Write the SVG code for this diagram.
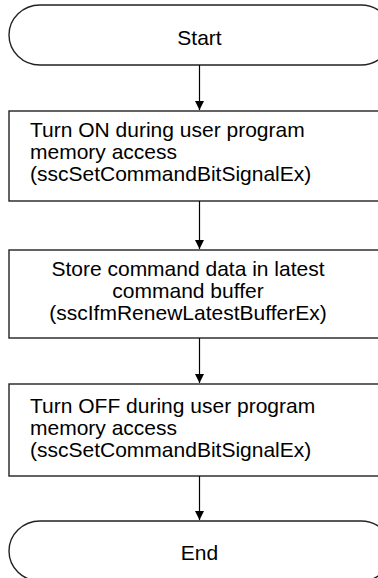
<svg xmlns="http://www.w3.org/2000/svg" width="378" height="578" viewBox="0 0 378 578">
<defs>
<marker id="ah" markerWidth="10" markerHeight="10" refX="9" refY="5" orient="auto" markerUnits="userSpaceOnUse">
<path d="M0,0.5 L9,5 L0,9.5 Z" fill="#000"/>
</marker>
<style>
.shape{fill:#fff;stroke:#222;stroke-width:1.4}
.t{font-family:"Liberation Sans",Arial,sans-serif;font-size:21px;fill:#000}
.c{text-anchor:middle}
.conn{stroke:#000;stroke-width:1.2;fill:none}
</style>
</defs>
<rect width="378" height="578" fill="#fff"/>
<g id="start">
<path class="shape" d="M40,5 H361 A31,30 0 0 1 361,65 H40 A31,30 0 0 1 40,5 Z"/>
<text class="t c" x="199.5" y="45">Start</text>
</g>
<g id="step1">
<rect class="shape" x="9" y="111" width="390" height="90"/>
<text class="t" x="30" y="137">Turn ON during user program</text>
<text class="t" x="30" y="159">memory access</text>
<text class="t" x="30" y="181">(sscSetCommandBitSignalEx)</text>
</g>
<g id="step2">
<rect class="shape" x="9" y="250" width="390" height="88"/>
<text class="t c" x="188" y="276">Store command data in latest</text>
<text class="t c" x="188" y="298">command buffer</text>
<text class="t c" x="188" y="320">(sscIfmRenewLatestBufferEx)</text>
</g>
<g id="step3">
<rect class="shape" x="9" y="384" width="390" height="92"/>
<text class="t" x="30" y="413">Turn OFF during user program</text>
<text class="t" x="30" y="435">memory access</text>
<text class="t" x="30" y="457">(sscSetCommandBitSignalEx)</text>
</g>
<g id="end">
<path class="shape" d="M40,521 H361 A31,30 0 0 1 361,581 H40 A31,30 0 0 1 40,521 Z"/>
<text class="t c" x="199.5" y="560">End</text>
</g>
<g id="connectors">
<line class="conn" x1="199.5" y1="65" x2="199.5" y2="110" marker-end="url(#ah)"/>
<line class="conn" x1="199.5" y1="201" x2="199.5" y2="249" marker-end="url(#ah)"/>
<line class="conn" x1="199.5" y1="338" x2="199.5" y2="383" marker-end="url(#ah)"/>
<line class="conn" x1="199.5" y1="476" x2="199.5" y2="520" marker-end="url(#ah)"/>
</g>
</svg>
